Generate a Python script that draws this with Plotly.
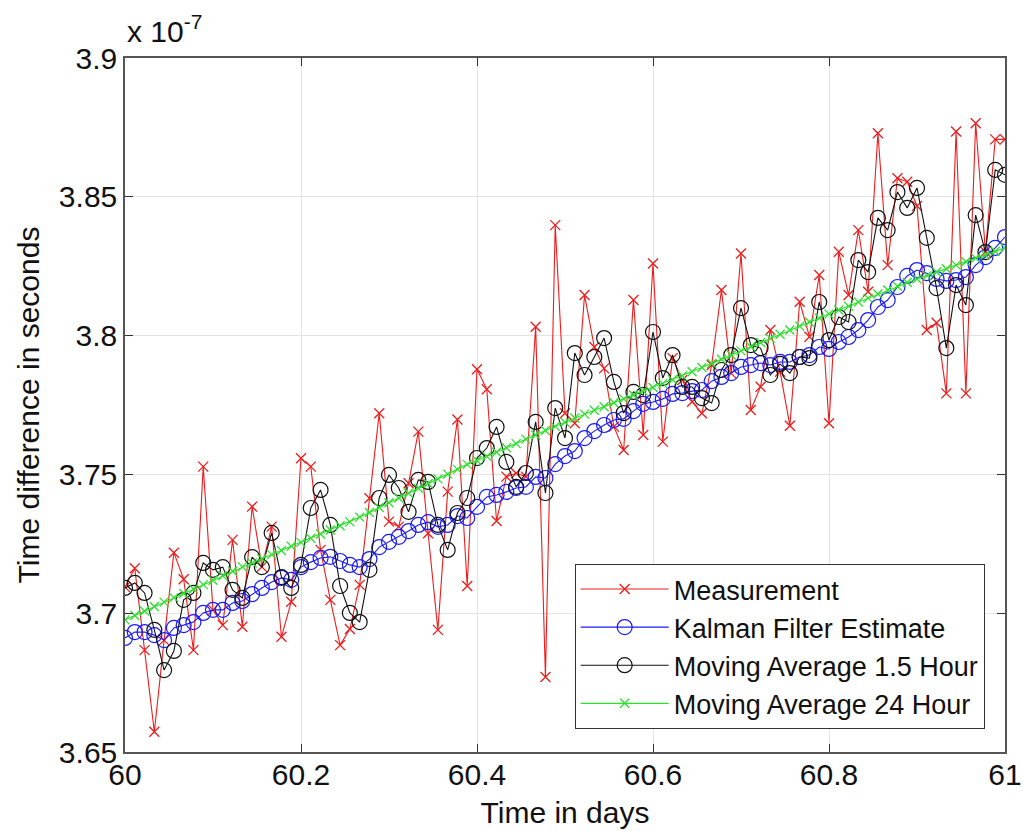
import plotly.graph_objects as go

# time axis: 91 samples over one day (60.0 .. 61.0)
n_pts = 91
t_start = 60.0
t_step = 1.0 / 90.0
time_days = [t_start + i * t_step for i in range(n_pts)]

# values in units of 1e-7 seconds
measurement = [
    3.7094, 3.7162, 3.6867, 3.6573, 3.6903, 3.7218, 3.7122, 3.6867, 3.7528, 3.7012,
    3.6957, 3.7264, 3.6951, 3.7384, 3.7167, 3.7312, 3.6915, 3.7041, 3.7558, 3.7528,
    3.7228, 3.7048, 3.6885, 3.6943, 3.7102, 3.7414, 3.7720, 3.7330, 3.7312, 3.7468,
    3.7654, 3.7288, 3.6940, 3.7438, 3.7698, 3.7098, 3.7879, 3.7807, 3.7332, 3.7492,
    3.7504, 3.7492, 3.8032, 3.6770, 3.8398, 3.7720, 3.7684, 3.8146, 3.7959, 3.7882,
    3.7672, 3.7588, 3.8128, 3.7642, 3.8260, 3.7618, 3.7919, 3.7840, 3.7762, 3.7720,
    3.7894, 3.8164, 3.7864, 3.8296, 3.7732, 3.7816, 3.8020, 3.7870, 3.7675, 3.8122,
    3.7996, 3.8218, 3.7684, 3.8302, 3.8146, 3.8380, 3.8158, 3.8729, 3.8254, 3.8567,
    3.8554, 3.8467, 3.8020, 3.8046, 3.7792, 3.8735, 3.7792, 3.8765, 3.8302, 3.8707,
    3.8707,
]

kalman = [
    3.6911, 3.6932, 3.6932, 3.6921, 3.6903, 3.6947, 3.6957, 3.6968, 3.7001, 3.7012,
    3.7012, 3.7037, 3.7044, 3.7069, 3.7091, 3.7112, 3.7127, 3.7120, 3.7166, 3.7184,
    3.7199, 3.7203, 3.7188, 3.7174, 3.7166, 3.7195, 3.7238, 3.7257, 3.7275, 3.7296,
    3.7318, 3.7328, 3.7311, 3.7318, 3.7350, 3.7343, 3.7383, 3.7419, 3.7426, 3.7437,
    3.7451, 3.7455, 3.7491, 3.7487, 3.7537, 3.7566, 3.7584, 3.7631, 3.7656, 3.7678,
    3.7696, 3.7700, 3.7728, 3.7754, 3.7761, 3.7772, 3.7790, 3.7793, 3.7800, 3.7804,
    3.7836, 3.7851, 3.7865, 3.7887, 3.7894, 3.7901, 3.7894, 3.7905, 3.7905, 3.7923,
    3.7930, 3.7959, 3.7952, 3.7977, 3.7995, 3.8020, 3.8056, 3.8103, 3.8128, 3.8175,
    3.8215, 3.8236, 3.8225, 3.8204, 3.8197, 3.8200, 3.8211, 3.8254, 3.8283, 3.8316,
    3.8355,
]

ma_1_5h = [
    3.7091, 3.7109, 3.7073, 3.6940, 3.6795, 3.6864, 3.7048, 3.7073, 3.7181, 3.7156,
    3.7166, 3.7084, 3.7055, 3.7202, 3.7166, 3.7289, 3.7130, 3.7091, 3.7174, 3.7379,
    3.7444, 3.7318, 3.7098, 3.7001, 3.6968, 3.7156, 3.7415, 3.7498, 3.7451, 3.7365,
    3.7480, 3.7473, 3.7318, 3.7228, 3.7361, 3.7415, 3.7559, 3.7595, 3.7671, 3.7545,
    3.7455, 3.7505, 3.7689, 3.7433, 3.7739, 3.7631, 3.7937, 3.7858, 3.7923, 3.7991,
    3.7833, 3.7721, 3.7797, 3.7786, 3.8013, 3.7847, 3.7930, 3.7815, 3.7815, 3.7775,
    3.7757, 3.7876, 3.7930, 3.8099, 3.7966, 3.7955, 3.7858, 3.7898, 3.7865, 3.7923,
    3.7919, 3.8121, 3.7984, 3.8067, 3.8049, 3.8272, 3.8229, 3.8424, 3.8380, 3.8517,
    3.8460, 3.8532, 3.8352, 3.8171, 3.7955, 3.8182, 3.8110, 3.8434, 3.8301, 3.8597,
    3.8579,
]

ma_24h = [
    3.6976, 3.6992, 3.7008, 3.7024, 3.7040, 3.7056, 3.7071, 3.7087, 3.7103, 3.7119,
    3.7135, 3.7151, 3.7167, 3.7181, 3.7196, 3.7211, 3.7226, 3.7241, 3.7255, 3.7270,
    3.7285, 3.7300, 3.7315, 3.7329, 3.7346, 3.7363, 3.7381, 3.7398, 3.7415, 3.7432,
    3.7450, 3.7467, 3.7484, 3.7501, 3.7518, 3.7536, 3.7550, 3.7565, 3.7580, 3.7596,
    3.7611, 3.7627, 3.7642, 3.7658, 3.7673, 3.7688, 3.7703, 3.7717, 3.7731, 3.7744,
    3.7758, 3.7772, 3.7786, 3.7800, 3.7813, 3.7827, 3.7841, 3.7855, 3.7870, 3.7885,
    3.7900, 3.7915, 3.7930, 3.7945, 3.7960, 3.7975, 3.7990, 3.8005, 3.8020, 3.8034,
    3.8049, 3.8063, 3.8078, 3.8092, 3.8106, 3.8121, 3.8135, 3.8150, 3.8164, 3.8178,
    3.8191, 3.8204, 3.8216, 3.8229, 3.8241, 3.8254, 3.8266, 3.8279, 3.8291, 3.8304,
    3.8316,
]

x_tick_vals = [60, 60.2, 60.4, 60.6, 60.8, 61]
x_tick_text = ["60", "60.2", "60.4", "60.6", "60.8", "61"]
y_tick_vals = [3.65, 3.70, 3.75, 3.80, 3.85, 3.90]
y_tick_text = ["3.65", "3.7", "3.75", "3.8", "3.85", "3.9"]

FONT = "Liberation Sans, Arial, Helvetica, sans-serif"

fig = go.Figure()
fig.add_trace(go.Scatter(
    x=time_days, y=measurement, mode="lines+markers", name="Measurement",
    line=dict(color="#ee1c1c", width=1.1),
    marker=dict(symbol="x-thin-open", size=10, line=dict(color="#ee1c1c", width=1.3)),
))
fig.add_trace(go.Scatter(
    x=time_days, y=kalman, mode="lines+markers", name="Kalman Filter Estimate",
    line=dict(color="#1a1aff", width=1.1),
    marker=dict(symbol="circle-open", size=15, color="#1a1aff", line=dict(color="#1a1aff", width=1.2)),
))
fig.add_trace(go.Scatter(
    x=time_days, y=ma_1_5h, mode="lines+markers", name="Moving Average 1.5 Hour",
    line=dict(color="#111111", width=1.1),
    marker=dict(symbol="circle-open", size=15, color="#111111", line=dict(color="#111111", width=1.2)),
))
fig.add_trace(go.Scatter(
    x=time_days, y=ma_24h, mode="lines+markers", name="Moving Average 24 Hour",
    line=dict(color="#2ee02e", width=1.2),
    marker=dict(symbol="x-thin-open", size=9, line=dict(color="#2ee02e", width=1.3)),
))

axis_common = dict(
    showline=True, mirror="ticks", linecolor="#555555", linewidth=1.5,
    ticks="inside", ticklen=8, tickwidth=1, tickcolor="#333333",
    showgrid=True, gridcolor="#e3e3e3", gridwidth=1, zeroline=False,
    tickfont=dict(family=FONT, size=30, color="#111111"),
    automargin=False,
)

fig.update_layout(
    width=1023, height=831,
    margin=dict(l=125, r=18, t=58, b=79),
    paper_bgcolor="white", plot_bgcolor="white",
    font=dict(family=FONT, size=30, color="#111111"),
    showlegend=True,
    legend=dict(
        x=0.511, y=0.271, xanchor="left", yanchor="top",
        bgcolor="white", bordercolor="#333333", borderwidth=1,
        font=dict(family=FONT, size=27, color="#111111"),
        itemwidth=88, tracegroupgap=0,
    ),
)
fig.update_xaxes(
    range=[60, 61], tickvals=x_tick_vals, ticktext=x_tick_text,
    ticklabelstandoff=-5,
    title=dict(text="Time in days", font=dict(family=FONT, size=30), standoff=12),
    **axis_common,
)
fig.update_yaxes(
    range=[3.65, 3.9], tickvals=y_tick_vals, ticktext=y_tick_text,
    ticklabelstandoff=0,
    title=dict(text="Time difference in seconds", font=dict(family=FONT, size=30), standoff=10),
    **axis_common,
)
fig.add_annotation(
    text="x 10<sup>-7</sup>", xref="paper", yref="paper", x=0.0, y=1.0,
    xanchor="left", yanchor="bottom", showarrow=False, yshift=8,
    font=dict(family=FONT, size=30, color="#111111"),
)

fig.write_html("out.html")
